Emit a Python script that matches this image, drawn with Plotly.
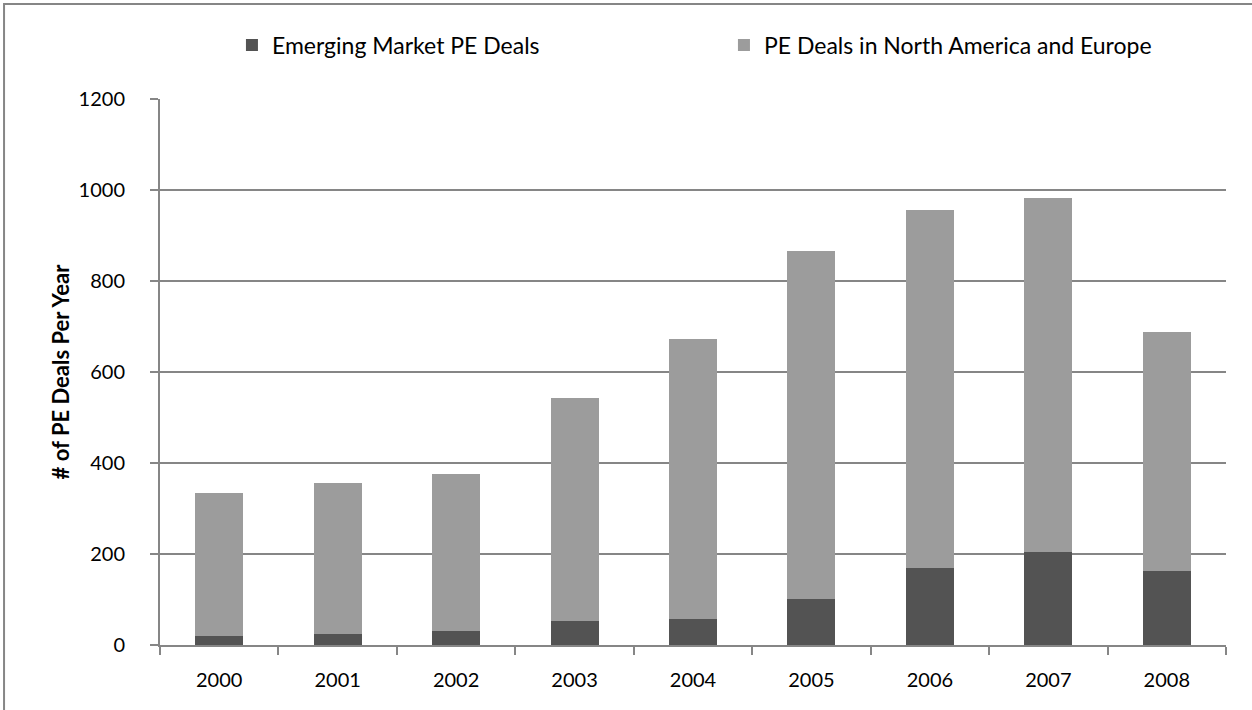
import plotly.graph_objects as go

years = ["2000", "2001", "2002", "2003", "2004", "2005", "2006", "2007", "2008"]
emerging = [20, 24, 31, 53, 57, 101, 169, 204, 162]
na_europe = [314, 332, 345, 489, 615, 766, 786, 779, 527]

FONT = "Lato"
GRID = "#868686"

fig = go.Figure()
fig.add_trace(go.Bar(x=years, y=emerging, name="Emerging Market PE Deals",
                     marker=dict(color="#535353", line=dict(width=0))))
fig.add_trace(go.Bar(x=years, y=na_europe, name="PE Deals in North America and Europe",
                     marker=dict(color="#9c9c9c", line=dict(width=0))))

fig.update_layout(
    barmode="stack",
    bargap=0.595,
    width=1252, height=710,
    margin=dict(l=160, r=26, t=99, b=65),
    paper_bgcolor="white", plot_bgcolor="white",
    font=dict(family=FONT, size=20, color="black"),
    legend=dict(orientation="h", x=0.0675, xanchor="left", y=1.099, yanchor="middle",
                font=dict(family=FONT, size=23), entrywidth=447, entrywidthmode="pixels",
                traceorder="normal"),
    xaxis=dict(showline=True, linecolor=GRID, linewidth=2, ticks="outside",
               tickson="boundaries", ticklen=8, tickwidth=2, tickcolor=GRID,
               showgrid=False, tickfont=dict(family=FONT, size=20),
               ticklabelstandoff=16),
    yaxis=dict(range=[0, 1200], dtick=200, showline=True, linecolor=GRID, linewidth=2,
               ticks="outside", ticklen=8, tickwidth=2, tickcolor=GRID,
               showgrid=True, gridcolor=GRID, gridwidth=2, zeroline=False,
               tickfont=dict(family=FONT, size=20), ticklabelstandoff=21,
               title=dict(text="<b># of PE Deals Per Year</b>", font=dict(family=FONT, size=22),
                          standoff=3)),
    shapes=[dict(type="rect", xref="paper", yref="paper",
                 x0=-0.1463, x1=1.2, y0=-0.3, y1=1.174,
                 line=dict(color=GRID, width=2), fillcolor="rgba(0,0,0,0)", layer="below")],
)

fig.write_html("out.html", config={"displayModeBar": False},
               post_script="document.body.style.margin='0';")
